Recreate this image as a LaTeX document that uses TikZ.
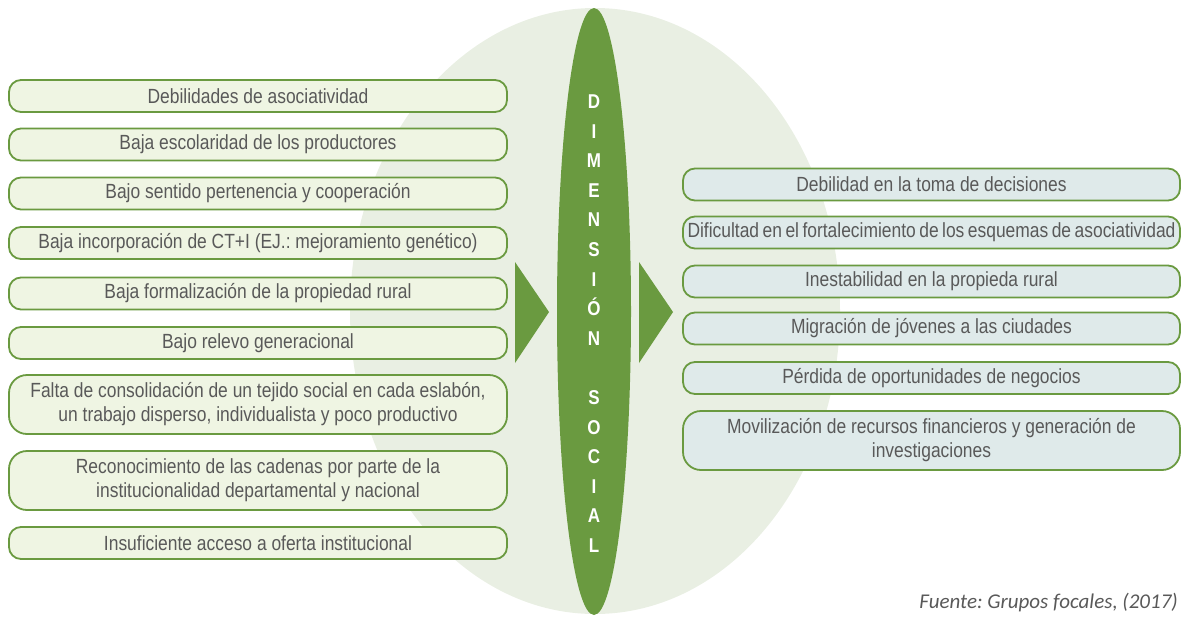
\documentclass[tikz,border=0pt]{standalone}
\usepackage{fontspec}
\setmainfont{Liberation Sans}
\newfontfamily\narrowf[FakeStretch=0.85]{Liberation Sans}
\newfontfamily\srcfont{Carlito}
\usetikzlibrary{shapes.geometric}
\definecolor{dgreen}{HTML}{6A9A40}
\definecolor{bgell}{HTML}{E9EFE3}
\definecolor{lfill}{HTML}{EFF5E3}
\definecolor{rfill}{HTML}{DFEAEA}
\definecolor{txtgray}{HTML}{595959}
\frenchspacing
\newcommand\myboxfont{\narrowf\fontsize{20.5}{24}\selectfont\frenchspacing\spaceskip=0.236em\relax}
\newcommand\mytightfont{\narrowf\fontsize{20.5}{24}\selectfont\frenchspacing\spaceskip=0.17em\relax}
\tikzset{
  box/.style={draw=dgreen, line width=1.8pt, rounded corners=12pt, text=txtgray,
    minimum height=32pt, inner sep=0pt, align=center, font=\myboxfont},
  lbox/.style={box, fill=lfill, minimum width=498pt},
  rbox/.style={box, fill=rfill, minimum width=497pt},
  tall/.style={minimum height=59pt, rounded corners=18pt},
  vlabel/.style={text=white, font=\narrowf\bfseries\fontsize{20}{29.6}\selectfont, align=center, inner sep=0pt}
}
\begin{document}
\begin{tikzpicture}[x=1pt,y=-1pt]
\useasboundingbox (0,0) rectangle (1181,616);
% background ellipse
\fill[bgell] (595,311) ellipse [x radius=245, y radius=303];
% central ellipse
\node[ellipse, fill=dgreen, minimum width=74pt, minimum height=607pt, inner sep=0pt] (dim) at (594,311.5) {};
\node[vlabel, anchor=north] (dimtxt) at (594,94.5) {D\\I\\M\\E\\N\\S\\I\\Ó\\N\\[29.6pt]S\\O\\C\\I\\A\\L};
% arrows
\fill[dgreen] (515,262) -- (549,312) -- (515,363) -- cycle;
\fill[dgreen] (639,262) -- (673,312) -- (639,363) -- cycle;
% left boxes
\node[lbox] (l1) at (258,96) {Debilidades de asociatividad};
\node[lbox] (l2) at (258,144.5) {Baja escolaridad de los productores};
\node[lbox] (l3) at (258,193.5) {Bajo sentido pertenencia y cooperación};
\node[lbox] (l4) at (258,243) {Baja incorporación de CT+I (EJ.: mejoramiento genético)};
\node[lbox] (l5) at (258,293.5) {Baja formalización de la propiedad rural};
\node[lbox] (l6) at (258,343) {Bajo relevo generacional};
\node[lbox,tall] (l7) at (258,404.5) {Falta de consolidación de un tejido social en cada eslabón,\\un trabajo disperso, individualista y poco productivo};
\node[lbox,tall] (l8) at (258,480.5) {Reconocimiento de las cadenas por parte de la\\institucionalidad departamental y nacional};
\node[lbox] (l9) at (258,543) {Insuficiente acceso a oferta institucional};
% right boxes
\node[rbox] (r1) at (931.5,184.5) {Debilidad en la toma de decisiones};
\node[rbox, font=\mytightfont] (r2) at (931.5,232.5) {Dificultad en el fortalecimiento de los esquemas de asociatividad};
\node[rbox] (r3) at (931.5,281.5) {Inestabilidad en la propieda rural};
\node[rbox] (r4) at (931.5,328.5) {Migración de jóvenes a las ciudades};
\node[rbox] (r5) at (931.5,378) {Pérdida de oportunidades de negocios};
\node[rbox,tall] (r6) at (931.5,440.5) {Movilización de recursos financieros y generación de\\investigaciones};
% source
\node[anchor=east, text=txtgray, font=\srcfont\itshape\fontsize{21}{24}\selectfont, inner sep=0pt] (src) at (1178,603) {Fuente: Grupos focales, (2017)};
\end{tikzpicture}
\end{document}
